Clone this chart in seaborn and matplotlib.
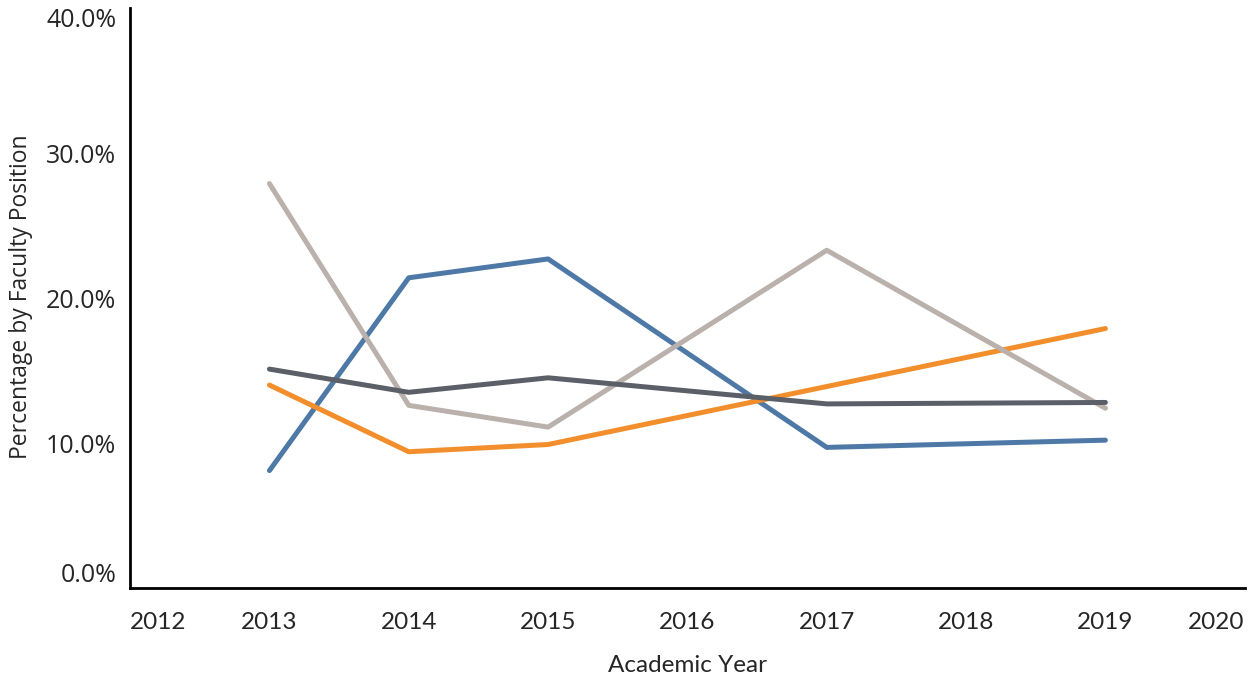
import matplotlib
matplotlib.use("Agg")
import matplotlib.pyplot as plt
import seaborn as sns
import pandas as pd
from matplotlib.ticker import FixedLocator

years = [2013, 2014, 2015, 2017, 2019]
series_a = [8.1, 21.4, 22.7, 9.7, 10.2]     # blue
series_b = [14.0, 9.4, 9.9, 13.9, 17.9]     # orange
series_c = [27.9, 12.6, 11.1, 23.3, 12.4]   # taupe
series_d = [15.1, 13.5, 14.5, 12.7, 12.8]   # dark gray
series_names = ["A", "B", "C", "D"]
colors = ["#4E79A7", "#F28E2B", "#BAB0AC", "#5B5F68"]
x_ticks = list(range(2012, 2021))
y_ticks = [0, 10, 20, 30, 40]

rows = []
for name, vals in zip(series_names, [series_a, series_b, series_c, series_d]):
    for yr, v in zip(years, vals):
        rows.append({"year": yr, "pct": v, "series": name})
df = pd.DataFrame(rows)

sns.set_theme(style="white")
plt.rcParams["font.family"] = ["Open Sans", "DejaVu Sans"]

fig = plt.figure(figsize=(12.51, 6.79), dpi=100)
ax = fig.add_axes([0.104, 0.134, 0.891, 0.854])

sns.lineplot(data=df, x="year", y="pct", hue="series", palette=colors,
             linewidth=3.6, legend=False, ax=ax, solid_capstyle="round")

ax.set_xlim(2012, 2020)
ax.set_ylim(0, 40)
ax.xaxis.set_major_locator(FixedLocator(x_ticks))
ax.yaxis.set_major_locator(FixedLocator(y_ticks))
ax.set_xticklabels([str(t) for t in x_ticks], fontsize=17.5, family="Lato")
ax.set_yticklabels([f"{t:.1f}%" for t in y_ticks], fontsize=18)

# keep edge labels inside the plotting span
xl = ax.get_xticklabels()
xl[0].set_ha("left")
xl[-1].set_ha("right")
yl = ax.get_yticklabels()
yl[0].set_va("bottom")
yl[-1].set_va("top")

ax.tick_params(axis="both", which="major", length=5, width=1, color="#E6E6E6",
               direction="out")
ax.tick_params(axis="y", pad=5)
ax.tick_params(axis="x", pad=12)

for side in ["top", "right"]:
    ax.spines[side].set_visible(False)
for side in ["left", "bottom"]:
    ax.spines[side].set_color("black")
    ax.spines[side].set_linewidth(2)

ax.set_xlabel("Academic Year", fontsize=17.5, family="Lato", labelpad=16)
ax.set_ylabel("Percentage by Faculty Position", fontsize=16.5)
ax.yaxis.label.set_va("center")
ax.yaxis.set_label_coords(-0.098, 0.503)

fig.savefig("out.png", dpi=100)
